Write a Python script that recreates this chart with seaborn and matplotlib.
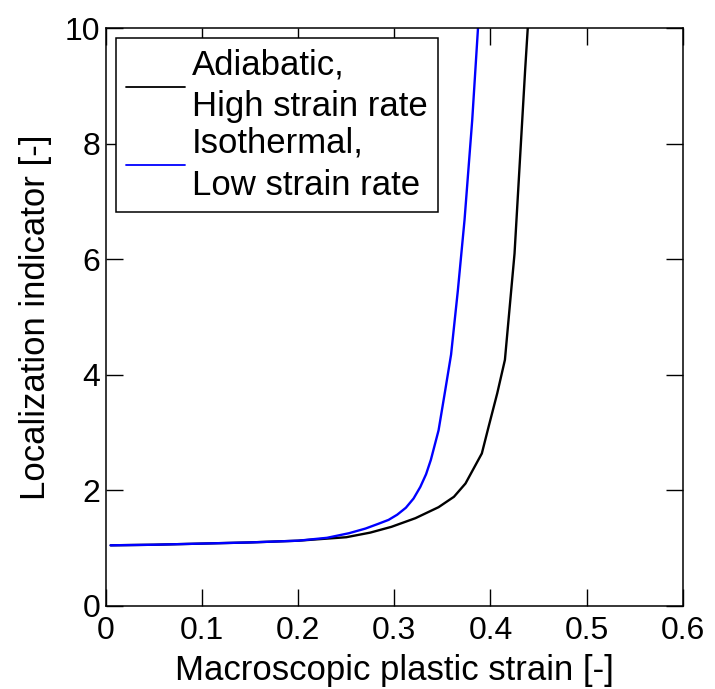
import matplotlib
matplotlib.use("Agg")
import matplotlib.pyplot as plt
import seaborn as sns

# Adiabatic, high strain rate (black)
adiabatic_x = [0.005, 0.05, 0.10, 0.15, 0.20, 0.25, 0.275, 0.297, 0.322, 0.346, 0.362, 0.374, 0.391, 0.398, 0.407, 0.415, 0.425, 0.431, 0.436, 0.441]
adiabatic_y = [1.05, 1.06, 1.08, 1.10, 1.13, 1.19, 1.27, 1.37, 1.52, 1.71, 1.89, 2.12, 2.64, 3.10, 3.68, 4.26, 6.10, 7.83, 9.27, 10.6]

# Isothermal, low strain rate (blue)
isothermal_x = [0.005, 0.05, 0.10, 0.15, 0.20, 0.23, 0.253, 0.27, 0.283, 0.294, 0.303, 0.312, 0.32, 0.327, 0.333, 0.338, 0.346, 0.353, 0.359, 0.366, 0.373, 0.381, 0.387, 0.390]
isothermal_y = [1.05, 1.06, 1.08, 1.10, 1.13, 1.18, 1.26, 1.34, 1.42, 1.49, 1.58, 1.70, 1.86, 2.06, 2.28, 2.53, 3.04, 3.74, 4.35, 5.45, 6.68, 8.41, 10.0, 10.6]

labels = ["Adiabatic,\nHigh strain rate", "Isothermal,\nLow strain rate"]
x_ticks = [0, 0.1, 0.2, 0.3, 0.4, 0.5, 0.6]
x_tick_labels = ["0", "0.1", "0.2", "0.3", "0.4", "0.5", "0.6"]
y_ticks = [0, 2, 4, 6, 8, 10]

sns.set_style("ticks")
plt.rcParams['font.family'] = ['Liberation Sans', 'DejaVu Sans']
plt.rcParams.update({"text.color": "black", "axes.labelcolor": "black",
                     "xtick.color": "black", "ytick.color": "black"})

FS_TICK = 23
FS = 25

fig = plt.figure(figsize=(7.15, 6.89), dpi=100)
ax = fig.add_axes([0.148, 0.1205, 0.807, 0.8385])

sns.lineplot(x=adiabatic_x, y=adiabatic_y, color="black", lw=1.7, sort=False,
             estimator=None, label=labels[0], ax=ax)
sns.lineplot(x=isothermal_x, y=isothermal_y, color="#0000ff", lw=1.7, sort=False,
             estimator=None, label=labels[1], ax=ax)

ax.set_xlim(0, 0.6)
ax.set_ylim(0, 10)
ax.set_xticks(x_ticks)
ax.set_xticklabels(x_tick_labels)
ax.set_yticks(y_ticks)
ax.tick_params(direction="in", length=12, width=1.0, top=True, right=True,
               labelsize=FS_TICK, colors="black")
ax.tick_params(axis="x", pad=7)
ax.tick_params(axis="y", pad=4)
for s in ax.spines.values():
    s.set_visible(True)
    s.set_linewidth(1.1)
    s.set_color("black")

ax.set_xlabel("Macroscopic plastic strain [-]", fontsize=FS, labelpad=6)
ax.set_ylabel("Localization indicator [-]", fontsize=FS, labelpad=9)

leg = ax.legend(loc="upper left", fontsize=FS, frameon=True, fancybox=False,
                edgecolor="black", framealpha=1, handlelength=1.7,
                handletextpad=0.2, borderaxespad=0.28, borderpad=0.3,
                labelspacing=0.1)
leg.get_frame().set_linewidth(1.1)
for t in leg.get_texts():
    t.set_linespacing(1.35)
    t.set_color("black")
for h in leg.get_lines():
    h.set_linewidth(1.3)

fig.savefig("out.png", dpi=100)
